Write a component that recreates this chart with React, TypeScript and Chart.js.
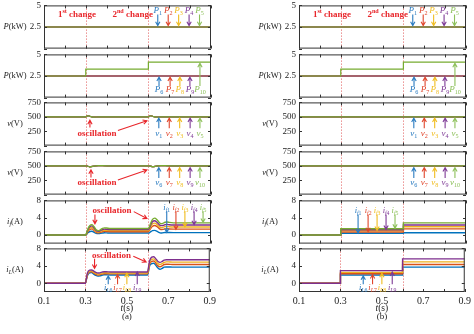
import React, { useEffect, useRef } from 'react';
import { Chart, registerables } from 'chart.js';

Chart.register(...registerables);

const FONT = '"Liberation Serif", "Times New Roman", Times, serif';

// ---------------- data ----------------
const X_MIN = 0.1;
const X_MAX = 0.9;
const X_TICKS = [0.1, 0.2, 0.3, 0.4, 0.5, 0.6, 0.7, 0.8, 0.9];
const X_LABELS = ['0.1', '0.3', '0.5', '0.7', '0.9'];
const CHANGE_TIMES = [0.3, 0.6];

const P_RANGE = [0, 5];
const P_TICKS = [0, 2.5, 5];
const P_LABELS = [2.5, 5];
const V_RANGE = [0, 750];
const V_TICKS = [0, 250, 500, 750];
const V_LABELS = [250, 500, 750];
const I_RANGE = [-2, 8];
const I_TICKS = [0, 4, 8];
const I_LABELS = [0, 4, 8];

// step-type signals (time of change points)
const T_STEP = [0.1, 0.3, 0.6, 0.9];
const P_FIXED = [2.5, 2.5, 2.5, 2.5];
const P10_STEP = [2.5, 3.3, 4.1, 4.1];
const V_FLAT = [500, 500, 500, 500];

// (a) voltages with small oscillations
const T_V_OSC = [0.1, 0.3, 0.31, 0.32, 0.34, 0.36, 0.4, 0.6, 0.61, 0.62, 0.64, 0.66, 0.7, 0.9];
const V_A_UP = [500, 500, 520, 510, 494, 500, 500, 500, 518, 510, 494, 500, 500, 500];
const V_A_LOW = [500, 500, 492, 482, 494, 504, 500, 500, 494, 484, 494, 503, 500, 500];

// (a) currents with oscillations
const T_OSC = [0.1, 0.3, 0.305, 0.31, 0.32, 0.33, 0.34, 0.35, 0.36, 0.37, 0.38, 0.39, 0.4, 0.42, 0.45, 0.5, 0.6,
  0.605, 0.61, 0.62, 0.63, 0.64, 0.65, 0.66, 0.67, 0.68, 0.69, 0.7, 0.72, 0.75, 0.8, 0.9];
const IF1_A = [0, 0, 0.2, 0.5, 0.8, 0.85, 0.6, 0.35, 0.3, 0.38, 0.45, 0.5, 0.48, 0.45, 0.45, 0.45, 0.45,
  0.5, 0.7, 1.0, 1.05, 0.9, 0.6, 0.45, 0.5, 0.58, 0.58, 0.56, 0.55, 0.55, 0.55, 0.55];
const IF2_A = [0, 0, 0.3, 0.8, 1.3, 1.4, 1.05, 0.6, 0.5, 0.6, 0.75, 0.82, 0.8, 0.75, 0.75, 0.75, 0.75,
  1.0, 1.4, 2.0, 2.2, 2.0, 1.55, 1.25, 1.3, 1.42, 1.45, 1.38, 1.35, 1.35, 1.35, 1.35];
const IF3_A = [0, 0, 0.4, 1.0, 1.6, 1.75, 1.3, 0.8, 0.65, 0.8, 1.0, 1.1, 1.05, 1.0, 1.0, 1.0, 1.0,
  1.3, 1.8, 2.6, 2.75, 2.5, 2.0, 1.7, 1.75, 1.95, 1.95, 1.9, 1.85, 1.85, 1.85, 1.85];
const IF4_A = [0, 0, 0.5, 1.2, 1.9, 2.1, 1.6, 1.0, 0.85, 1.0, 1.25, 1.35, 1.3, 1.25, 1.25, 1.25, 1.25,
  1.6, 2.2, 3.1, 3.3, 3.0, 2.5, 2.15, 2.2, 2.4, 2.45, 2.35, 2.3, 2.3, 2.3, 2.3];
const IF5_A = [0, 0, 0.6, 1.4, 2.2, 2.4, 1.9, 1.2, 1.0, 1.2, 1.5, 1.65, 1.6, 1.5, 1.5, 1.5, 1.5,
  1.9, 2.6, 3.6, 3.9, 3.6, 3.0, 2.6, 2.7, 2.95, 3.0, 2.9, 2.8, 2.8, 2.8, 2.8];
const IL6_A = [0, 0, 0.9, 1.8, 2.4, 2.45, 2.1, 1.8, 1.65, 1.7, 1.85, 1.95, 1.95, 1.9, 1.9, 1.9, 1.9,
  2.9, 4.0, 4.5, 4.6, 4.1, 3.5, 3.2, 3.4, 3.7, 3.75, 3.75, 3.7, 3.7, 3.7, 3.7];
const IL7_A = [0, 0, 1.0, 2.0, 2.6, 2.65, 2.35, 2.05, 1.9, 1.95, 2.1, 2.2, 2.2, 2.15, 2.15, 2.15, 2.15,
  3.2, 4.4, 5.0, 5.1, 4.6, 4.0, 3.8, 4.0, 4.3, 4.35, 4.35, 4.3, 4.3, 4.3, 4.3];
const IL8_A = [0, 0, 1.1, 2.2, 2.8, 2.85, 2.55, 2.25, 2.1, 2.15, 2.3, 2.4, 2.4, 2.35, 2.35, 2.35, 2.35,
  3.5, 4.8, 5.5, 5.6, 5.1, 4.5, 4.3, 4.5, 4.8, 4.9, 4.9, 4.85, 4.85, 4.85, 4.85];
const IL9_A = [0, 0, 1.2, 2.4, 3.0, 3.05, 2.8, 2.5, 2.35, 2.4, 2.55, 2.65, 2.65, 2.6, 2.6, 2.6, 2.6,
  3.8, 5.2, 6.0, 6.1, 5.6, 5.0, 4.8, 5.0, 5.3, 5.4, 5.4, 5.4, 5.4, 5.4, 5.4];

// (b) currents, clean steps
const IF1_B = [0, 0.4, 0.5, 0.5];
const IF2_B = [0, 0.7, 1.4, 1.4];
const IF3_B = [0, 1.0, 1.9, 1.9];
const IF4_B = [0, 1.2, 2.3, 2.3];
const IF5_B = [0, 1.45, 2.8, 2.8];
const IL6_B = [0, 1.9, 3.7, 3.7];
const IL7_B = [0, 2.2, 4.3, 4.3];
const IL8_B = [0, 2.5, 4.9, 4.9];
const IL9_B = [0, 2.9, 5.6, 5.6];

// annotation anchors (data units)
const P_TOP_T = [0.645, 0.695, 0.745, 0.795, 0.845];
const P_BOT_T = [0.651, 0.704, 0.751, 0.799, 0.847];
const P_BOT_TIPS = [2.38, 2.38, 2.38, 2.38, 3.98];
const V_T = [0.65, 0.7, 0.75, 0.8, 0.847];
const IF_T_A = [0.688, 0.732, 0.775, 0.819, 0.862];
const IF_TIPS_A = [0.6, 1.3, 1.9, 2.4, 2.9];
const IF_T_B = [0.383, 0.431, 0.474, 0.517, 0.56];
const IF_TIPS_B = [0.45, 0.75, 1.05, 1.3, 1.55];
const IL_T = [0.41, 0.455, 0.5, 0.55];
const IL_TIPS = [1.7, 2.0, 2.3, 2.6];

// ---------------- styles ----------------
const SERIES_COLORS = ['#0072BD', '#D95319', '#EDB120', '#7E2F8E', '#77AC30'];
const ARROW_COLORS = ['#2A7BC0', '#E0452B', '#F0BC1E', '#7E3A96', '#8DC05A'];
const RED = '#E8262B';
const CHANGE_LINE = 'rgba(225,90,90,0.75)';
const FRAME = '#333';
const TEXT = '#222';

const COL_LEFT = [0, 255];
const PANEL_TOPS = [5, 54, 102, 151, 200, 248];
const PANEL_H = 44;
const CANVAS_W = 219;
const Y_AXIS_W = 44;
const PAD_T = 8;
const PAD_R = 8;
const PAD_B = 8;
const X_AXIS_H = 16;
const PAD_B_LAST = 26;

type Seg = { t: string; it?: boolean; b?: boolean; sub?: boolean; sup?: boolean };
type Ann =
  | { kind: 'arrow'; x0: number; y0: number; x1: number; y1: number; color: string }
  | { kind: 'text'; x: number; y: number; segs: Seg[]; color: string; size: number };
type DS = { t: number[]; y: number[]; color: string; stepped?: boolean; smooth?: boolean; width?: number };
type PanelSpec = {
  col: number; row: number; range: number[]; ticks: number[]; labels: number[];
  title: Seg[]; series: DS[]; anns: Ann[]; caption?: string;
};

function segFont(s: Seg, size: number) {
  const sz = s.sub || s.sup ? size * 0.68 : size;
  return `${s.it ? 'italic ' : ''}${s.b ? 'bold ' : ''}${sz}px ${FONT}`;
}

function drawRich(ctx: CanvasRenderingContext2D, segs: Seg[], x: number, y: number, size: number, color: string) {
  let w = 0;
  for (const s of segs) { ctx.font = segFont(s, size); w += ctx.measureText(s.t).width; }
  let cx = x - w / 2;
  ctx.fillStyle = color;
  ctx.textAlign = 'left';
  ctx.textBaseline = 'middle';
  for (const s of segs) {
    ctx.font = segFont(s, size);
    const dy = s.sub ? size * 0.32 : s.sup ? -size * 0.35 : 0;
    ctx.fillText(s.t, cx, y + dy);
    cx += ctx.measureText(s.t).width;
  }
}

function drawArrow(ctx: CanvasRenderingContext2D, x0: number, y0: number, x1: number, y1: number, color: string) {
  const head = 4.5;
  const a = Math.atan2(y1 - y0, x1 - x0);
  ctx.strokeStyle = color;
  ctx.lineWidth = 1.1;
  ctx.setLineDash([]);
  ctx.beginPath();
  ctx.moveTo(x0, y0);
  ctx.lineTo(x1, y1);
  ctx.moveTo(x1 - head * Math.cos(a - 0.5), y1 - head * Math.sin(a - 0.5));
  ctx.lineTo(x1, y1);
  ctx.lineTo(x1 - head * Math.cos(a + 0.5), y1 - head * Math.sin(a + 0.5));
  ctx.stroke();
}

const TITLE_P: Seg[] = [{ t: 'P', it: true }, { t: '(kW)' }];
const TITLE_V: Seg[] = [{ t: 'v', it: true }, { t: '(V)' }];
const TITLE_IF: Seg[] = [{ t: 'i', it: true }, { t: 'f', it: true, sub: true }, { t: '(A)' }];
const TITLE_IL: Seg[] = [{ t: 'i', it: true }, { t: 'L', it: true, sub: true }, { t: '(A)' }];

const labP = (n: number): Seg[] => [{ t: 'P', it: true }, { t: String(n), sub: true }];
const labV = (n: number): Seg[] => [{ t: 'v', it: true }, { t: String(n), sub: true }];
const labIf = (n: number): Seg[] => [{ t: 'i', it: true }, { t: 'f', it: true, sub: true }, { t: String(n), sub: true }];
const labIL = (n: number): Seg[] => [{ t: 'i', it: true }, { t: 'L', it: true, sub: true }, { t: String(n), sub: true }];

function arrowSet(ts: number[], from: number, tips: number[], labelY: number, lab: (n: number) => Seg[], first: number, size: number): Ann[] {
  const out: Ann[] = [];
  ts.forEach((t, i) => {
    const color = ARROW_COLORS[i];
    out.push({ kind: 'arrow', x0: t, y0: from, x1: t, y1: tips[i], color });
    out.push({ kind: 'text', x: t, y: labelY, segs: lab(first + i), color, size });
  });
  return out;
}

function oscillation(tx: number, ty: number, ax: number, ay0: number, ay1: number, dx0: number, dy0: number, dx1: number, dy1: number): Ann[] {
  return [
    { kind: 'text', x: tx, y: ty, segs: [{ t: 'oscillation', b: true }], color: RED, size: 9 },
    { kind: 'arrow', x0: ax, y0: ay0, x1: ax, y1: ay1, color: RED },
    { kind: 'arrow', x0: dx0, y0: dy0, x1: dx1, y1: dy1, color: RED },
  ];
}

const CHANGE_ANNS: Ann[] = [
  { kind: 'text', x: 0.258, y: 3.9, segs: [{ t: '1', b: true }, { t: 'st', b: true, sup: true }, { t: ' change', b: true }], color: RED, size: 9 },
  { kind: 'text', x: 0.525, y: 3.9, segs: [{ t: '2', b: true }, { t: 'nd', b: true, sup: true }, { t: ' change', b: true }], color: RED, size: 9 },
];

function lines(t: number[], ys: number[][], opts: Partial<DS> = {}): DS[] {
  return ys.map((y, i) => ({ t, y, color: SERIES_COLORS[i], ...opts }));
}

function buildColumn(col: number): PanelSpec[] {
  const a = col === 0;
  const pTop: PanelSpec = {
    col, row: 0, range: P_RANGE, ticks: P_TICKS, labels: P_LABELS, title: TITLE_P,
    series: lines(T_STEP, [P_FIXED, P_FIXED, P_FIXED, P_FIXED, P_FIXED], { width: 1.2 }),
    anns: [...CHANGE_ANNS, ...arrowSet(P_TOP_T, 3.95, [2.65, 2.65, 2.65, 2.65, 2.65], 4.45, labP, 1, 9)],
  };
  const pBot: PanelSpec = {
    col, row: 1, range: P_RANGE, ticks: P_TICKS, labels: P_LABELS, title: TITLE_P,
    series: [
      ...lines(T_STEP, [P_FIXED, P_FIXED, P_FIXED, P_FIXED], { width: 1.2 }),
      { t: T_STEP, y: P10_STEP, color: SERIES_COLORS[4], stepped: true, width: 1.2 },
    ],
    anns: arrowSet(P_BOT_T, 1.35, P_BOT_TIPS, 0.9, labP, 6, 9),
  };
  const vUp: PanelSpec = {
    col, row: 2, range: V_RANGE, ticks: V_TICKS, labels: V_LABELS, title: TITLE_V,
    series: a
      ? lines(T_V_OSC, [V_A_UP, V_A_UP, V_A_UP, V_A_UP, V_A_UP], { width: 1.2, smooth: true })
      : lines(T_STEP, [V_FLAT, V_FLAT, V_FLAT, V_FLAT, V_FLAT], { width: 1.2 }),
    anns: [
      ...arrowSet(V_T, 300, [478, 478, 478, 478, 478], 215, labV, 1, 9),
      ...(a ? oscillation(0.354, 210, 0.32, 315, 440, 0.454, 262, 0.593, 430) : []),
    ],
  };
  const vLow: PanelSpec = {
    col, row: 3, range: V_RANGE, ticks: V_TICKS, labels: V_LABELS, title: TITLE_V,
    series: a
      ? lines(T_V_OSC, [V_A_LOW, V_A_LOW, V_A_LOW, V_A_LOW, V_A_LOW], { width: 1.2, smooth: true })
      : lines(T_STEP, [V_FLAT, V_FLAT, V_FLAT, V_FLAT, V_FLAT], { width: 1.2 }),
    anns: [
      ...arrowSet(V_T, 290, [470, 470, 470, 470, 470], 205, labV, 6, 9),
      ...(a ? oscillation(0.354, 205, 0.325, 295, 430, 0.454, 255, 0.593, 428) : []),
    ],
  };
  const iF: PanelSpec = {
    col, row: 4, range: I_RANGE, ticks: I_TICKS, labels: I_LABELS, title: TITLE_IF,
    series: a
      ? lines(T_OSC, [IF1_A, IF2_A, IF3_A, IF4_A, IF5_A], { width: 1.4, smooth: true })
      : lines(T_STEP, [IF1_B, IF2_B, IF3_B, IF4_B, IF5_B], { width: 1.4, stepped: true }),
    anns: a
      ? [...oscillation(0.426, 5.7, 0.344, 4.75, 2.6, 0.53, 5.4, 0.593, 3.8), ...arrowSet(IF_T_A, 5.5, IF_TIPS_A, 6.3, labIf, 1, 8.5)]
      : arrowSet(IF_T_B, 4.75, IF_TIPS_B, 5.65, labIf, 1, 8.5),
  };
  const iL: PanelSpec = {
    col, row: 5, range: I_RANGE, ticks: I_TICKS, labels: I_LABELS, title: TITLE_IL,
    series: a
      ? lines(T_OSC, [IL6_A, IL7_A, IL8_A, IL9_A], { width: 1.4, smooth: true })
      : lines(T_STEP, [IL6_B, IL7_B, IL8_B, IL9_B], { width: 1.4, stepped: true }),
    anns: a
      ? [...oscillation(0.426, 6.4, 0.344, 5.6, 3.4, 0.531, 6.2, 0.593, 4.9), ...arrowSet(IL_T, -0.2, IL_TIPS, -1.1, labIL, 6, 8.5)]
      : arrowSet(IL_T, -0.2, IL_TIPS, -1.1, labIL, 6, 8.5),
    caption: a ? '(a)' : '(b)',
  };
  return [pTop, pBot, vUp, vLow, iF, iL];
}

const PANELS: PanelSpec[] = [...buildColumn(0), ...buildColumn(1)];

function makeDecor(spec: PanelSpec) {
  return {
    id: `decor_${spec.col}_${spec.row}`,
    beforeDatasetsDraw(chart: any) {
      const { ctx, chartArea: ar } = chart;
      const xs = chart.scales.x;
      ctx.save();
      ctx.strokeStyle = CHANGE_LINE;
      ctx.lineWidth = 0.9;
      ctx.setLineDash([1.5, 1.5]);
      for (const t of CHANGE_TIMES) {
        const px = Math.round(xs.getPixelForValue(t)) + 0.5;
        ctx.beginPath();
        ctx.moveTo(px, ar.top);
        ctx.lineTo(px, ar.bottom);
        ctx.stroke();
      }
      ctx.restore();
    },
    afterDraw(chart: any) {
      const { ctx, chartArea: ar } = chart;
      const xs = chart.scales.x;
      const ys = chart.scales.y;
      ctx.save();
      ctx.setLineDash([]);
      ctx.strokeStyle = FRAME;
      ctx.lineWidth = 1;
      ctx.strokeRect(ar.left + 0.5, ar.top + 0.5, ar.right - ar.left - 1, ar.bottom - ar.top - 1);
      ctx.beginPath();
      for (const v of X_TICKS) {
        const px = Math.round(xs.getPixelForValue(v)) + 0.5;
        ctx.moveTo(px, ar.bottom);
        ctx.lineTo(px, ar.bottom - 3);
        ctx.moveTo(px, ar.top);
        ctx.lineTo(px, ar.top + 3);
      }
      for (const v of spec.ticks) {
        const py = Math.round(ys.getPixelForValue(v)) + 0.5;
        ctx.moveTo(ar.left, py);
        ctx.lineTo(ar.left + 3, py);
        ctx.moveTo(ar.right, py);
        ctx.lineTo(ar.right - 3, py);
      }
      ctx.stroke();
      drawRich(ctx, spec.title, ar.left - 29, (ar.top + ar.bottom) / 2, 8.5, TEXT);
      for (const an of spec.anns) {
        if (an.kind === 'arrow') {
          drawArrow(ctx, xs.getPixelForValue(an.x0), ys.getPixelForValue(an.y0), xs.getPixelForValue(an.x1), ys.getPixelForValue(an.y1), an.color);
        } else {
          drawRich(ctx, an.segs, xs.getPixelForValue(an.x), ys.getPixelForValue(an.y), an.size, an.color);
        }
      }
      if (spec.caption) {
        const cx = (ar.left + ar.right) / 2;
        drawRich(ctx, [{ t: 't', it: true }, { t: '(s)' }], cx, ar.bottom + 16, 9.5, TEXT);
        drawRich(ctx, [{ t: spec.caption }], cx, ar.bottom + 25, 9, TEXT);
      }
      ctx.restore();
    },
  };
}

function canvasBox(spec: PanelSpec) {
  const last = spec.row === 5;
  const top = PANEL_TOPS[spec.row] - PAD_T;
  const height = PAD_T + PANEL_H + (last ? X_AXIS_H + PAD_B_LAST : PAD_B);
  return { left: COL_LEFT[spec.col], top, width: CANVAS_W, height };
}

function buildConfig(spec: PanelSpec): any {
  const last = spec.row === 5;
  const n = spec.series.length;
  return {
    type: 'line',
    data: {
      datasets: spec.series.map((s, i) => ({
        data: s.t.map((t, k) => ({ x: t, y: s.y[k] })),
        borderColor: s.color,
        backgroundColor: s.color,
        borderWidth: s.width ?? 1.3,
        pointRadius: 0,
        fill: false,
        stepped: s.stepped ? 'before' : false,
        cubicInterpolationMode: s.smooth ? 'monotone' : 'default',
        tension: 0,
        order: n - 1 - i,
      })),
    },
    options: {
      responsive: false,
      animation: false,
      events: [],
      layout: { padding: { top: PAD_T, right: PAD_R, bottom: last ? PAD_B_LAST : PAD_B, left: 0 } },
      plugins: { legend: { display: false }, tooltip: { enabled: false } },
      scales: {
        x: {
          type: 'linear',
          min: X_MIN,
          max: X_MAX,
          display: last,
          grid: { display: false, drawTicks: false },
          border: { display: false },
          afterBuildTicks: (s: any) => { s.ticks = X_TICKS.map((v) => ({ value: v })); },
          afterFit: (s: any) => { s.height = last ? X_AXIS_H : 0; },
          ticks: {
            autoSkip: false,
            maxRotation: 0,
            padding: 3,
            color: TEXT,
            font: { family: FONT, size: 10 },
            callback: (v: number) => { const l = Number(v).toFixed(1); return X_LABELS.includes(l) ? l : ''; },
          },
        },
        y: {
          type: 'linear',
          min: spec.range[0],
          max: spec.range[1],
          grid: { display: false, drawTicks: false },
          border: { display: false },
          afterBuildTicks: (s: any) => { s.ticks = spec.ticks.map((v) => ({ value: v })); },
          afterFit: (s: any) => { s.width = Y_AXIS_W; },
          ticks: {
            autoSkip: false,
            padding: 3,
            color: TEXT,
            font: { family: FONT, size: 9 },
            callback: (v: number) => (spec.labels.includes(Number(v)) ? String(v) : ''),
          },
        },
      },
    },
    plugins: [makeDecor(spec)],
  };
}

function Panel({ spec }: { spec: PanelSpec }) {
  const ref = useRef<HTMLCanvasElement>(null);
  const box = canvasBox(spec);
  useEffect(() => {
    if (!ref.current) return;
    const chart = new Chart(ref.current, buildConfig(spec));
    return () => chart.destroy();
  }, [spec]);
  return (
    <canvas
      ref={ref}
      width={box.width}
      height={box.height}
      style={{ position: 'absolute', left: box.left, top: box.top, width: box.width, height: box.height }}
    />
  );
}

export default function App() {
  return (
    <div style={{ position: 'absolute', left: 0, top: 0, width: 474, height: 334, overflow: 'hidden', background: '#fff' }}>
      {PANELS.map((p) => (
        <Panel key={`${p.col}-${p.row}`} spec={p} />
      ))}
    </div>
  );
}
